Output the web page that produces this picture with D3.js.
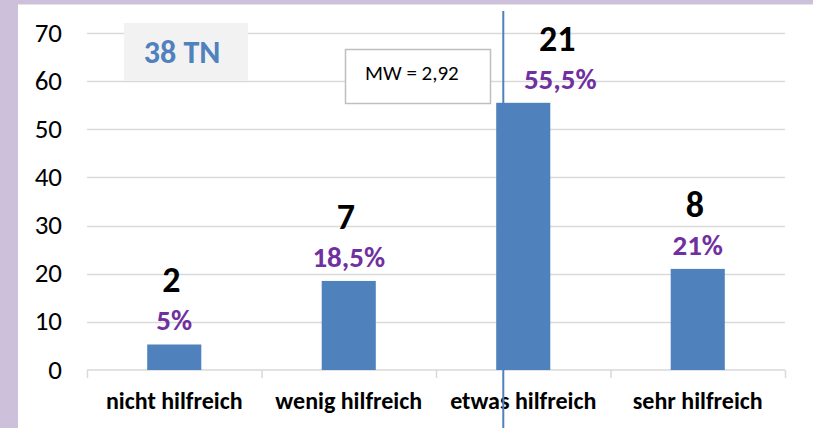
<!DOCTYPE html>
<html>
<head>
<meta charset="utf-8">
<script src="https://cdn.jsdelivr.net/npm/d3@7"></script>
<style>
  body { margin: 0; background: #ccc0da; }
  svg { display: block; }
  text { font-family: Carlito, Lato, "Open Sans", sans-serif; }
</style>
</head>
<body>
<div id="chart"></div>
<script>
// answers (category, count, percent shown on bar)
var categories = ["nicht hilfreich", "wenig hilfreich", "etwas hilfreich", "sehr hilfreich"];
var counts = [2, 7, 21, 8];
var percents = [5.3, 18.5, 55.5, 21];
var percentLabels = ["5%", "18,5%", "55,5%", "21%"];
var yTicks = [0, 10, 20, 30, 40, 50, 60, 70];
var participants = "38 TN";
var meanValue = 2.92;
var meanLabel = "MW = 2,92";

var width = 813, height = 428;
var margin = { top: 33, right: 28, bottom: 58, left: 87 };

var svg = d3.select("#chart").append("svg")
  .attr("width", width)
  .attr("height", height);

// white panel inside the lavender frame
svg.append("rect")
  .attr("x", 18).attr("y", 4)
  .attr("width", width - 18).attr("height", height - 4)
  .attr("fill", "#ffffff");
svg.append("line")
  .attr("x1", 18).attr("x2", width).attr("y1", 4.5).attr("y2", 4.5)
  .attr("stroke", "#e4e4e4");

var x = d3.scaleBand()
  .domain(categories)
  .range([margin.left, width - margin.right])
  .paddingInner(0.69)
  .paddingOuter(0.345);

var y = d3.scaleLinear()
  .domain([0, 70])
  .range([height - margin.bottom, margin.top]);

// grid
svg.append("g")
  .selectAll("line")
  .data(yTicks.slice(1))
  .enter().append("line")
  .attr("x1", margin.left).attr("x2", width - margin.right)
  .attr("y1", function (d) { return Math.round(y(d)) + 0.5; })
  .attr("y2", function (d) { return Math.round(y(d)) + 0.5; })
  .attr("stroke", "#d9d9d9")
  .attr("stroke-width", 1.5);

// y axis labels
svg.append("g")
  .selectAll("text")
  .data(yTicks)
  .enter().append("text")
  .attr("x", 62)
  .attr("y", function (d) { return y(d); })
  .attr("dy", "0.32em")
  .attr("text-anchor", "end")
  .attr("font-size", 27)
  .attr("fill", "#000")
  .text(function (d) { return d; });

// x axis with outer category ticks
var xAxis = d3.axisBottom(d3.scaleLinear().domain([0, 4]).range([margin.left, width - margin.right]))
  .tickValues([0, 1, 2, 3, 4])
  .tickSize(8)
  .tickFormat("");
var ax = svg.append("g")
  .attr("transform", "translate(0," + y(0) + ")")
  .call(xAxis);
ax.select(".domain").remove();
ax.selectAll("line").attr("stroke", "#d9d9d9").attr("stroke-width", 1.5);
ax.append("line")
  .attr("x1", margin.left).attr("x2", width - margin.right)
  .attr("stroke", "#d9d9d9").attr("stroke-width", 1.5);

svg.append("g")
  .selectAll("text")
  .data(categories)
  .enter().append("text")
  .attr("x", function (d) { return x(d) + x.bandwidth() / 2; })
  .attr("y", 409)
  .attr("text-anchor", "middle")
  .attr("font-size", 24)
  .attr("font-weight", "bold")
  .attr("fill", "#000")
  .text(function (d) { return d; });

// bars
svg.append("g")
  .selectAll("rect")
  .data(categories)
  .enter().append("rect")
  .attr("x", function (d) { return x(d); })
  .attr("y", function (d, i) { return y(percents[i]); })
  .attr("width", x.bandwidth())
  .attr("height", function (d, i) { return y(0) - y(percents[i]); })
  .attr("fill", "#4f81bd");

// labels above bars (the big bar's labels sit a bit to the right of the mean line)
function labelX(i) {
  var cx = x(categories[i]) + x.bandwidth() / 2;
  return i === 2 ? cx + 37 : cx;
}

svg.append("g")
  .selectAll("text")
  .data(percentLabels)
  .enter().append("text")
  .attr("x", function (d, i) { return labelX(i); })
  .attr("y", function (d, i) { return y(percents[i]) - 14; })
  .attr("text-anchor", "middle")
  .attr("font-size", 29)
  .attr("font-weight", "bold")
  .attr("fill", "#7030a0")
  .text(function (d) { return d; });

svg.append("g")
  .selectAll("text")
  .data(counts)
  .enter().append("text")
  .attr("x", function (d, i) { return labelX(i) - 3; })
  .attr("y", function (d, i) { return y(percents[i]) - 52; })
  .attr("text-anchor", "middle")
  .attr("font-size", 36)
  .attr("font-weight", "bold")
  .attr("fill", "#000")
  .text(function (d) { return d; });

// mean line (answers coded 1..4 at band centres)
var xMean = d3.scaleLinear()
  .domain([1, 4])
  .range([x(categories[0]) + x.bandwidth() / 2, x(categories[3]) + x.bandwidth() / 2]);
svg.append("line")
  .attr("x1", xMean(meanValue) - 6).attr("x2", xMean(meanValue) - 6)
  .attr("y1", 11).attr("y2", height)
  .attr("stroke", "#4f81bd")
  .attr("stroke-width", 2);

// participant box
svg.append("rect")
  .attr("x", 124).attr("y", 23)
  .attr("width", 124).attr("height", 58)
  .attr("fill", "#f2f2f2");
svg.append("text")
  .attr("x", 182).attr("y", 63)
  .attr("text-anchor", "middle")
  .attr("font-size", 32)
  .attr("font-weight", "bold")
  .attr("fill", "#4f81bd")
  .text(participants);

// mean box
svg.append("rect")
  .attr("x", 345.5).attr("y", 49.5)
  .attr("width", 145).attr("height", 54)
  .attr("fill", "#fff")
  .attr("stroke", "#bfbfbf")
  .attr("stroke-width", 1.5);
svg.append("text")
  .attr("x", 365).attr("y", 80)
  .attr("font-size", 21)
  .attr("fill", "#000")
  .text(meanLabel);
</script>
</body>
</html>
